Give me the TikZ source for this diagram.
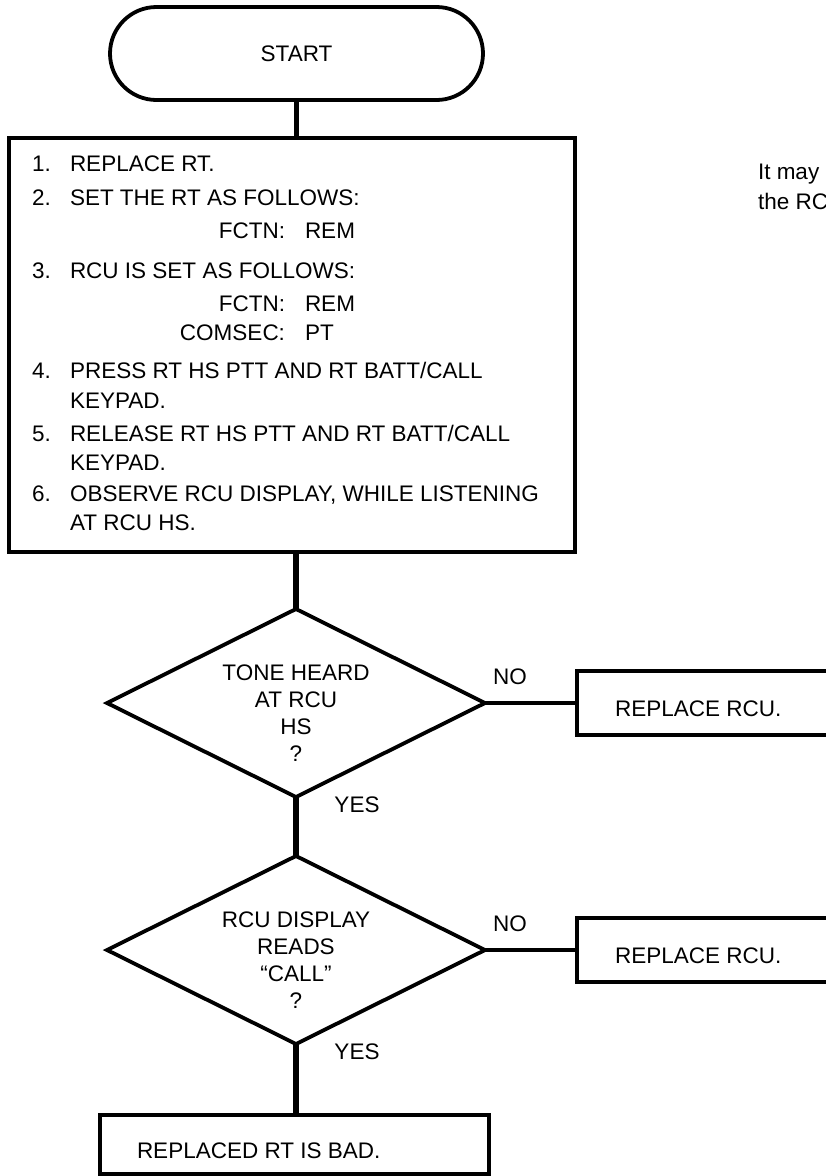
\documentclass[tikz,border=0pt]{standalone}
\usepackage{fontspec}
\setmainfont{Liberation Sans}
\usetikzlibrary{shapes.geometric}
\begin{document}
\begin{tikzpicture}[x=1pt,y=-1pt,
  shapebox/.style={draw, line width=3.8pt, rectangle, inner sep=0pt, outer sep=0pt},
  dia/.style={draw, diamond, line width=3.8pt, minimum width=378pt, minimum height=188pt, inner sep=0pt, outer sep=0pt},
  txt/.style={inner sep=0pt, outer sep=0pt, font=\fontsize{22.5}{27}\selectfont},
  conn/.style={line width=5.5pt},
  hconn/.style={line width=3.2pt}]
\useasboundingbox (0,0) rectangle (826,1176);

% start terminal
\node[shapebox, rounded corners=46.5pt, minimum width=373pt, minimum height=93pt, font=\fontsize{22.5}{27}\selectfont] (start) at (296.5,53.5) {START};

% steps box
\node[shapebox, minimum width=566pt, minimum height=414pt, anchor=north west] (steps) at (9,138) {};
\node[txt, anchor=base west] (n1) at (32,171) {1.};
\node[txt, anchor=base west] (t1) at (70,171) {REPLACE RT.};
\node[txt, anchor=base west] (n2) at (32,205) {2.};
\node[txt, anchor=base west] (t2) at (70,205) {SET THE RT AS FOLLOWS:};
\node[txt, anchor=base east] (f2) at (285,238) {FCTN:};
\node[txt, anchor=base west] (v2) at (305,238) {REM};
\node[txt, anchor=base west] (n3) at (32,278) {3.};
\node[txt, anchor=base west] (t3) at (70,278) {RCU IS SET AS FOLLOWS:};
\node[txt, anchor=base east] (f3) at (285,311) {FCTN:};
\node[txt, anchor=base west] (v3) at (305,311) {REM};
\node[txt, anchor=base east] (c3) at (285,340) {COMSEC:};
\node[txt, anchor=base west] (p3) at (305,340) {PT};
\node[txt, anchor=base west] (n4) at (32,378) {4.};
\node[txt, anchor=base west] (t4) at (70,378) {PRESS RT HS PTT AND RT BATT/CALL};
\node[txt, anchor=base west] (k4) at (70,408) {KEYPAD.};
\node[txt, anchor=base west] (n5) at (32,441) {5.};
\node[txt, anchor=base west] (t5) at (70,441) {RELEASE RT HS PTT AND RT BATT/CALL};
\node[txt, anchor=base west] (k5) at (70,470) {KEYPAD.};
\node[txt, anchor=base west] (n6) at (32,501) {6.};
\node[txt, anchor=base west] (t6) at (70,501) {OBSERVE RCU DISPLAY, WHILE LISTENING};
\node[txt, anchor=base west] (k6) at (70,530) {AT RCU HS.};

% note at top right
\node[txt, anchor=base west] (note1) at (758,179) {It may};
\node[txt, anchor=base west] (note2) at (758,209) {the RC};

% decision 1
\node[dia] (d1) at (296,703) {};
\node[txt, align=center] (q1) at (296,713) {TONE HEARD\\AT RCU\\HS\\?};
\node[shapebox, minimum width=263pt, minimum height=64pt, anchor=west] (rcu1) at (577,703) {};
\node[txt, anchor=base west] (r1) at (615,716) {REPLACE RCU.};
\node[txt] (no1) at (510,677) {NO};
\node[txt] (yes1) at (357,805) {YES};

% decision 2
\node[dia] (d2) at (296,950) {};
\node[txt, align=center] (q2) at (296,960) {RCU DISPLAY\\READS\\``CALL''\\?};
\node[shapebox, minimum width=263pt, minimum height=64pt, anchor=west] (rcu2) at (577,950) {};
\node[txt, anchor=base west] (r2) at (615,963) {REPLACE RCU.};
\node[txt] (no2) at (510,924) {NO};
\node[txt] (yes2) at (357,1052) {YES};

% final box
\node[shapebox, minimum width=389pt, minimum height=59pt, anchor=north west] (bad) at (100,1115) {};
\node[txt, anchor=base west] (badt) at (137,1158) {REPLACED RT IS BAD.};

% connectors
\draw[conn] (start.south) -- (steps.north -| start.south);
\draw[conn] (steps.south -| d1.north) -- (d1.north);
\draw[conn] (d1.south) -- (d2.north);
\draw[conn] (d2.south) -- (bad.north -| d2.south);
\draw[hconn] (d1.east) -- (rcu1.west);
\draw[hconn] (d2.east) -- (rcu2.west);
\end{tikzpicture}
\end{document}
